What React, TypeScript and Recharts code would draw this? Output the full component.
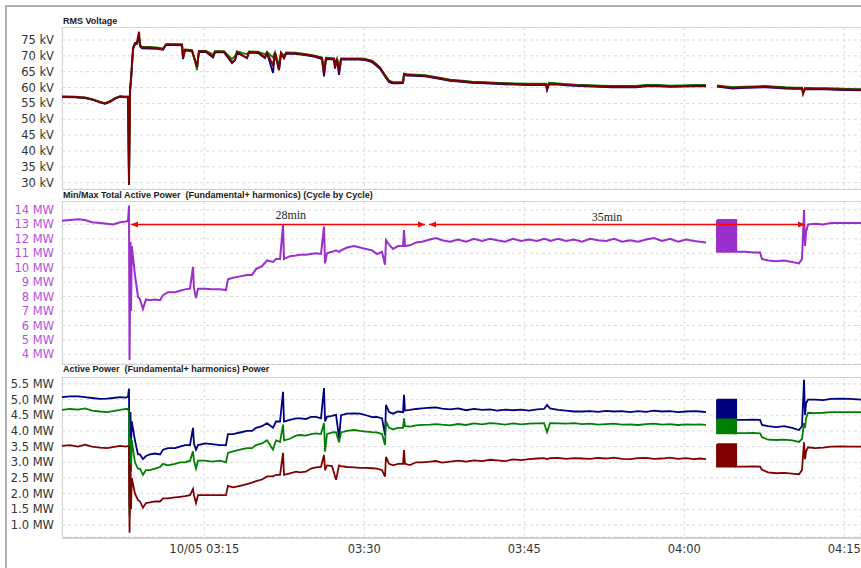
import React from 'react';
import { LineChart, Line, XAxis, YAxis, CartesianGrid, ReferenceLine, ReferenceDot } from 'recharts';

// x values are minutes after 03:00 on 10/05
const timeTicks = [15, 30, 45, 60, 75];
const timeLabels = ['10/05 03:15', '03:30', '03:45', '04:00', '04:15'];
const xDomain = [1.66, 76.56];

const voltTicks = [30, 35, 40, 45, 50, 55, 60, 65, 70, 75];
const totalTicks = [4, 5, 6, 7, 8, 9, 10, 11, 12, 13, 14];
const phaseTicks = [1.0, 1.5, 2.0, 2.5, 3.0, 3.5, 4.0, 4.5, 5.0, 5.5];

const voltTime = [
  1.66, 2.88, 3.82, 4.57, 5.22, 5.69, 6.16, 6.63, 7.1, 7.66,
  7.85, 7.94, 8.04, 8.13, 8.32, 8.5, 8.69, 8.88, 8.97, 9.16,
  9.91, 10.66, 11.13, 11.41, 12.25, 12.91, 13.0, 13.19, 13.85, 14.32,
  14.5, 15.16, 15.82, 16.0, 16.85, 17.6, 17.88, 18.07, 19.0, 19.19,
  20.03, 20.69, 20.88, 21.44, 21.63, 22.0, 22.19, 22.47, 22.66, 23.5,
  24.44, 25.38, 26.03, 26.22, 26.41, 27.16, 27.25, 27.44, 27.63, 27.82,
  28.66, 29.41, 29.97, 30.35, 30.72, 31.1, 31.47, 31.94, 32.32, 32.69,
  33.16, 33.63, 33.72, 34.0, 34.75, 35.69, 36.91, 38.04, 39.16, 40.1,
  41.32, 42.72, 44.13, 45.53, 47.03, 47.13, 47.31, 48.16, 48.91, 49.85,
  50.78, 52.1, 53.22, 54.16, 55.47, 56.41, 57.53, 58.66, 59.79, 60.91,
  62.03, 62.5, 63.06, 63.81, 64.56, 65.69, 66.63, 67.56, 68.5, 69.44,
  70.38, 71.03, 71.13, 71.31, 72.26, 73.19, 74.32, 75.35, 76.56,
];

const voltL1 = [
  57.0, 56.9, 56.7, 56.1, 55.3, 54.9, 55.5, 56.5, 57.1, 56.9,
  57.0, 30.5, 58.5, 62.0, 72.0, 73.5, 73.8, 76.0, 73.0, 72.4,
  72.3, 72.2, 71.9, 73.4, 73.4, 73.3, 69.0, 71.7, 71.4, 66.8,
  71.3, 71.2, 69.5, 71.1, 71.1, 67.7, 68.7, 71.0, 69.3, 71.0,
  70.9, 69.3, 70.8, 64.6, 70.8, 65.5, 70.7, 69.3, 70.7, 70.6,
  70.2, 69.7, 69.0, 63.5, 69.0, 68.8, 66.0, 68.8, 64.0, 68.8,
  68.8, 68.8, 68.7, 68.4, 68.0, 67.0, 65.9, 63.5, 61.7, 61.3,
  61.3, 61.4, 64.0, 63.8, 63.7, 63.5, 62.8, 62.1, 61.8, 61.5,
  61.3, 61.1, 60.9, 60.8, 60.8, 59.2, 61.0, 60.9, 60.7, 60.5,
  60.4, 60.2, 60.1, 60.1, 60.1, 60.4, 60.4, 60.2, 60.3, 60.4,
  60.4, null, 60.3, 60.0, 59.7, 59.9, 60.0, 60.1, 59.9, 59.7,
  59.6, 59.6, 58.5, 59.5, 59.4, 59.4, 59.3, 59.2, 59.1,
];

const voltL2 = [
  57.2, 57.1, 56.9, 56.3, 55.5, 55.1, 55.7, 56.7, 57.3, 57.1,
  57.2, 30.0, 59.0, 62.5, 72.3, 73.8, 74.0, 76.5, 73.3, 72.9,
  72.8, 72.6, 72.3, 73.7, 73.7, 73.6, 71.5, 72.0, 71.8, 65.5,
  71.6, 71.6, 70.5, 71.5, 71.5, 69.0, 70.0, 71.4, 70.5, 71.4,
  71.3, 70.5, 71.2, 69.5, 71.2, 67.0, 71.1, 70.0, 71.1, 71.0,
  70.6, 70.1, 69.5, 66.0, 69.4, 69.2, 67.5, 69.2, 66.5, 69.2,
  69.2, 69.2, 69.1, 68.8, 68.5, 67.5, 66.4, 64.0, 62.2, 61.7,
  61.7, 61.8, 64.4, 64.2, 64.1, 63.9, 63.2, 62.5, 62.2, 61.9,
  61.7, 61.5, 61.3, 61.2, 61.2, 60.5, 61.5, 61.3, 61.1, 60.9,
  60.8, 60.6, 60.5, 60.5, 60.5, 60.8, 60.8, 60.6, 60.7, 60.8,
  60.8, null, 60.7, 60.4, 60.1, 60.3, 60.4, 60.5, 60.3, 60.1,
  60.0, 60.0, 58.8, 59.9, 59.8, 59.8, 59.7, 59.6, 59.5,
];

const voltL3 = [
  57.1, 57.0, 56.8, 56.2, 55.4, 55.0, 55.6, 56.6, 57.2, 57.0,
  57.1, 29.3, 60.0, 63.0, 72.5, 74.0, 74.2, 77.6, 73.5, 72.7,
  72.6, 72.4, 72.1, 73.6, 73.6, 73.5, 69.3, 71.9, 71.6, 66.5,
  71.5, 71.4, 69.7, 71.3, 71.3, 68.0, 68.7, 71.2, 69.3, 71.2,
  71.1, 69.5, 71.0, 67.0, 71.0, 65.5, 70.9, 69.3, 70.9, 70.8,
  70.4, 69.9, 69.3, 64.5, 69.2, 69.0, 66.5, 69.0, 64.8, 69.0,
  69.0, 69.0, 68.9, 68.6, 68.3, 67.3, 66.2, 63.8, 62.0, 61.5,
  61.5, 61.6, 64.2, 64.0, 63.9, 63.7, 63.0, 62.3, 62.0, 61.7,
  61.5, 61.3, 61.1, 61.0, 61.0, 59.5, 61.2, 61.1, 60.9, 60.7,
  60.6, 60.4, 60.3, 60.3, 60.3, 60.6, 60.6, 60.4, 60.5, 60.6,
  60.6, null, 60.5, 60.2, 59.9, 60.1, 60.2, 60.3, 60.1, 59.9,
  59.8, 59.8, 58.0, 59.7, 59.6, 59.6, 59.5, 59.4, 59.3,
];

// the 04:03-04:05 burst is read as pairs of top/bottom samples at each instant
const powerTime = [
  1.66, 2.41, 3.16, 3.82, 4.47, 5.22, 5.88, 6.44, 7.1, 7.66,
  7.85, 7.94, 7.99, 8.08, 8.13, 8.2, 8.5, 8.78, 8.97, 9.25,
  9.53, 9.91, 10.38, 10.85, 11.13, 11.6, 12.25, 12.72, 13.19, 13.66,
  13.94, 14.03, 14.22, 14.41, 15.07, 15.72, 16.47, 17.03, 17.22, 17.69,
  18.35, 19.0, 19.47, 19.85, 20.41, 20.88, 21.44, 21.72, 22.1, 22.38,
  22.47, 23.03, 23.6, 23.97, 24.53, 25.0, 25.47, 25.94, 26.22, 26.32,
  26.5, 26.97, 27.35, 27.63, 27.82, 28.38, 29.03, 29.6, 30.16, 30.72,
  31.19, 31.66, 31.94, 32.03, 32.32, 32.69, 33.16, 33.63, 33.72, 33.81,
  34.28, 34.85, 35.41, 36.16, 36.72, 37.28, 38.04, 38.79, 39.54, 40.29,
  41.04, 41.79, 42.44, 43.19, 43.94, 44.69, 45.44, 46.19, 46.85, 47.13,
  47.41, 48.16, 48.91, 49.66, 50.41, 51.16, 51.91, 52.66, 53.41, 54.16,
  54.91, 55.66, 56.41, 57.16, 57.91, 58.66, 59.41, 60.16, 60.91, 61.47,
  62.03, 62.5,
  63.06, 63.06, 63.16, 63.16, 63.26, 63.26, 63.36, 63.36, 63.46, 63.46,
  63.56, 63.56, 63.66, 63.66, 63.76, 63.76, 63.86, 63.86, 63.96, 63.96,
  64.06, 64.06, 64.16, 64.16, 64.26, 64.26, 64.36, 64.36, 64.46, 64.46,
  64.56, 64.56, 64.66, 64.66, 64.76, 64.76, 64.86, 64.86,
  64.94, 65.69, 66.44, 67.1, 67.28, 67.85, 68.6, 69.35, 70.1, 70.75,
  71.03, 71.22, 71.31, 71.41, 71.6, 72.26, 73.0, 73.75, 74.6, 75.53, 76.56,
];

const totalPower = [
  13.25, 13.3, 13.35, 13.3, 13.15, 13.1, 13.05, 13.0, 13.15, 13.2,
  13.25, 14.3, 3.6, 11.8, 7.0, 11.5, 9.5, 8.0, 7.8, 7.15,
  7.8, 7.75, 7.8, 7.75, 8.1, 8.3, 8.3, 8.4, 8.5, 8.55,
  10.05, 8.6, 7.9, 8.55, 8.55, 8.5, 8.5, 8.45, 9.2, 9.3,
  9.4, 9.5, 9.5, 9.9, 10.1, 10.5, 10.4, 10.6, 10.6, 12.95,
  10.6, 10.8, 10.85, 10.9, 10.9, 10.95, 11.0, 10.95, 12.85, 10.3,
  11.0, 11.1, 11.2, 11.1, 11.2, 11.4, 11.5, 11.4, 11.3, 11.2,
  10.95, 11.1, 10.2, 11.9, 11.6, 11.3, 11.5, 11.5, 12.6, 11.5,
  11.55, 11.75, 11.8, 11.95, 12.05, 11.9, 11.8, 11.95, 11.8, 12.0,
  11.85, 12.0, 11.9, 11.8, 12.0, 11.85, 11.95, 11.85, 12.0, 11.95,
  11.85, 12.0, 11.85, 11.95, 11.8, 12.0, 11.9, 11.85, 12.0, 11.8,
  11.9, 11.8, 11.95, 12.05, 11.85, 12.0, 11.8, 11.95, 11.85, 11.8,
  11.75, null,
  13.3, 11.1, 11.1, 13.3, 13.3, 11.1, 11.1, 13.3, 13.3, 11.1,
  11.1, 13.3, 13.3, 11.1, 11.1, 13.3, 13.3, 11.1, 11.1, 13.3,
  13.3, 11.1, 11.1, 13.3, 13.3, 11.1, 11.1, 13.3, 13.3, 11.1,
  11.1, 13.3, 13.3, 11.1, 11.1, 13.3, 13.3, 11.1,
  11.1, 11.1, 11.05, 11.05, 10.6, 10.5, 10.45, 10.5, 10.4, 10.3,
  10.6, 14.0, 11.5, 12.5, 13.0, 13.05, 13.0, 13.1, 13.1, 13.1, 13.1,
];

const powerL1 = [
  5.08, 5.1, 5.1, 5.08, 5.05, 5.02, 5.03, 5.05, 5.08, 5.06,
  5.1, 5.35, 1.6, 4.6, 3.5, 4.3, 3.7, 3.25, 3.25, 3.1,
  3.2, 3.25, 3.28, 3.25, 3.4, 3.45, 3.45, 3.5, 3.55, 3.55,
  4.1, 3.6, 3.4, 3.55, 3.6, 3.58, 3.55, 3.55, 3.9, 3.9,
  3.95, 4.0, 4.0, 4.1, 4.15, 4.25, 4.1, 4.3, 4.3, 5.25,
  4.3, 4.35, 4.4, 4.4, 4.38, 4.45, 4.45, 4.4, 5.37, 4.3,
  4.45, 4.48, 4.51, 3.78, 4.5, 4.55, 4.56, 4.55, 4.5, 4.44,
  4.45, 4.4, 3.87, 4.83, 4.6, 4.55, 4.62, 4.6, 5.15, 4.65,
  4.67, 4.7, 4.72, 4.74, 4.75, 4.71, 4.69, 4.72, 4.66, 4.7,
  4.67, 4.69, 4.65, 4.68, 4.66, 4.68, 4.65, 4.69, 4.7, 4.83,
  4.72, 4.67, 4.65, 4.62, 4.62, 4.63, 4.61, 4.64, 4.62, 4.63,
  4.6, 4.63, 4.61, 4.65, 4.62, 4.63, 4.6, 4.62, 4.63, 4.62,
  4.6, null,
  5.0, 4.35, 4.35, 5.0, 5.0, 4.35, 4.35, 5.0, 5.0, 4.35,
  4.35, 5.0, 5.0, 4.35, 4.35, 5.0, 5.0, 4.35, 4.35, 5.0,
  5.0, 4.35, 4.35, 5.0, 5.0, 4.35, 4.35, 5.0, 5.0, 4.35,
  4.35, 5.0, 5.0, 4.35, 4.35, 5.0, 5.0, 4.35,
  4.35, 4.35, 4.36, 4.35, 4.19, 4.15, 4.12, 4.15, 4.1, 4.03,
  4.15, 5.63, 4.5, 4.88, 5.0, 5.0, 4.98, 5.02, 5.03, 5.02, 5.0,
];

const powerL2 = [
  4.67, 4.7, 4.68, 4.72, 4.65, 4.62, 4.6, 4.63, 4.67, 4.7,
  4.7, 4.6, 1.3, 3.8, 2.7, 3.7, 3.0, 2.8, 2.8, 2.6,
  2.75, 2.75, 2.8, 2.85, 2.95, 2.9, 2.95, 3.0, 3.0, 3.05,
  3.35, 3.05, 2.8, 3.05, 3.05, 3.02, 3.05, 3.0, 3.3, 3.35,
  3.4, 3.45, 3.45, 3.55, 3.6, 3.7, 3.4, 3.7, 3.65, 4.2,
  3.7, 3.75, 3.85, 3.87, 3.85, 3.9, 3.92, 3.9, 4.25, 3.34,
  3.9, 3.95, 3.96, 3.64, 3.95, 4.0, 4.03, 4.0, 3.98, 3.96,
  3.95, 3.9, 3.55, 4.3, 4.1, 4.05, 4.1, 4.1, 4.4, 4.15,
  4.14, 4.18, 4.19, 4.2, 4.22, 4.2, 4.18, 4.22, 4.19, 4.24,
  4.21, 4.25, 4.23, 4.2, 4.24, 4.21, 4.23, 4.24, 4.25, 3.96,
  4.25, 4.24, 4.23, 4.25, 4.22, 4.23, 4.2, 4.22, 4.23, 4.2,
  4.21, 4.19, 4.22, 4.23, 4.2, 4.22, 4.19, 4.21, 4.2, 4.21,
  4.19, null,
  4.37, 3.92, 3.92, 4.37, 4.37, 3.92, 3.92, 4.37, 4.37, 3.92,
  3.92, 4.37, 4.37, 3.92, 3.92, 4.37, 4.37, 3.92, 3.92, 4.37,
  4.37, 3.92, 3.92, 4.37, 4.37, 3.92, 3.92, 4.37, 4.37, 3.92,
  3.92, 4.37, 4.37, 3.92, 3.92, 4.37, 4.37, 3.92,
  3.93, 3.93, 3.94, 3.92, 3.8, 3.72, 3.71, 3.72, 3.7, 3.65,
  3.75, 4.25, 4.1, 4.4, 4.58, 4.57, 4.58, 4.6, 4.6, 4.6, 4.6,
];

const powerL3 = [
  3.52, 3.55, 3.5, 3.56, 3.5, 3.47, 3.45, 3.48, 3.52, 3.5,
  3.52, 3.5, 0.75, 2.95, 1.5, 2.5, 2.0, 1.8, 1.75, 1.55,
  1.7, 1.72, 1.75, 1.75, 1.85, 1.85, 1.88, 1.9, 1.92, 1.95,
  2.15, 1.95, 1.7, 1.95, 1.95, 1.95, 1.95, 1.95, 2.25, 2.2,
  2.25, 2.3, 2.35, 2.4, 2.45, 2.55, 2.55, 2.6, 2.6, 3.3,
  2.6, 2.65, 2.7, 2.68, 2.7, 2.8, 2.84, 2.85, 3.23, 2.75,
  2.9, 2.88, 2.44, 2.9, 2.88, 2.85, 2.84, 2.82, 2.82, 2.81,
  2.8, 2.75, 2.54, 3.17, 2.95, 2.9, 2.95, 2.95, 3.39, 2.95,
  2.91, 3.0, 3.0, 3.02, 3.04, 2.99, 3.02, 3.05, 3.02, 3.06,
  3.04, 3.08, 3.06, 3.04, 3.09, 3.07, 3.1, 3.12, 3.13, 3.1,
  3.13, 3.14, 3.11, 3.13, 3.12, 3.11, 3.14, 3.12, 3.15, 3.11,
  3.1, 3.13, 3.14, 3.11, 3.12, 3.15, 3.11, 3.13, 3.1, 3.12,
  3.1, null,
  3.58, 2.86, 2.86, 3.58, 3.58, 2.86, 2.86, 3.58, 3.58, 2.86,
  2.86, 3.58, 3.58, 2.86, 2.86, 3.58, 3.58, 2.86, 2.86, 3.58,
  3.58, 2.86, 2.86, 3.58, 3.58, 2.86, 2.86, 3.58, 3.58, 2.86,
  2.86, 3.58, 3.58, 2.86, 2.86, 3.58, 3.58, 2.86,
  2.87, 2.86, 2.87, 2.86, 2.76, 2.68, 2.65, 2.66, 2.64, 2.62,
  2.75, 3.64, 3.1, 3.35, 3.48, 3.45, 3.47, 3.5, 3.51, 3.5, 3.5,
];

// arrows drawn on the total power panel (start, end in minutes) and their labels
const arrowSpans = [
  [8.13, 35.69],
  [36.07, 71.31],
];
const arrowLabels = ['28min', '35min'];
const arrowLabelTimes = [23.1, 52.75];
const arrowLevel = 13;

const voltData = voltTime.map((t, i) => ({ t, a: voltL1[i], b: voltL2[i], c: voltL3[i] }));
const powerData = powerTime.map((t, i) => ({
  t,
  total: totalPower[i],
  a: powerL1[i],
  b: powerL2[i],
  c: powerL3[i],
}));

const AXIS_FONT = '"DejaVu Sans", Verdana, sans-serif';
const GRID = '#d9d9d9';
const BORDER = '#d0d0d0';
const BLUE = '#000080';
const GREEN = '#008000';
const RED = '#800000';
const PURPLE = '#9b2fcb';
const PURPLE_TEXT = '#b94fdc';

const Arrow = (props: any) => {
  const { x1, y1, x2, y2 } = props;
  const len = 7;
  const half = 3;
  return (
    <g>
      <line x1={x1} y1={y1} x2={x2} y2={y2} stroke="#ff0000" strokeWidth={1.5} />
      <polygon points={`${x1},${y1} ${x1 + len},${y1 - half} ${x1 + len},${y1 + half}`} fill="#ff0000" />
      <polygon points={`${x2},${y2} ${x2 - len},${y2 - half} ${x2 - len},${y2 + half}`} fill="#ff0000" />
    </g>
  );
};

const Title = ({ top, children }: { top: number; children: React.ReactNode }) => (
  <div
    style={{
      position: 'absolute',
      left: 63,
      top,
      fontFamily: '"Liberation Sans", Arial, sans-serif',
      fontWeight: 'bold',
      fontSize: 9,
      lineHeight: '12px',
      color: '#1a1a1a',
      whiteSpace: 'pre',
    }}
  >
    {children}
  </div>
);

const Frame = ({ top, height, bottom = 1 }: { top: number; height: number; bottom?: number }) => (
  <div
    style={{
      position: 'absolute',
      left: 62,
      top,
      width: 799,
      height,
      boxSizing: 'border-box',
      borderTop: `1px solid ${BORDER}`,
      borderLeft: `1px solid ${BORDER}`,
      borderBottom: `${bottom}px solid ${BORDER}`,
    }}
  />
);

const yTick = (fill: string) => ({ fontSize: 11.5, fill, fontFamily: AXIS_FONT });

export default function App() {
  return (
    <div
      style={{
        position: 'absolute',
        left: 0,
        top: 0,
        width: 861,
        height: 568,
        background: '#fff',
        overflow: 'hidden',
      }}
    >
      {/* outer window frame */}
      <div style={{ position: 'absolute', left: 5, top: 5, width: 2, height: 563, background: '#b0b0b0' }} />
      <div style={{ position: 'absolute', left: 5, top: 5, width: 856, height: 2, background: '#b0b0b0' }} />

      <Frame top={27} height={163} />
      <Frame top={201} height={164} />
      <Frame top={377} height={162} bottom={2} />

      <Title top={14.5}>RMS Voltage</Title>
      <Title top={188.5}>{'Min/Max Total Active Power  (Fundamental+ harmonics) (Cycle by Cycle)'}</Title>
      <Title top={363}>{'Active Power  (Fundamental+ harmonics) Power'}</Title>

      {/* RMS voltage */}
      <div style={{ position: 'absolute', left: 0, top: 27 }}>
        <LineChart width={861} height={162} data={voltData} margin={{ top: 0, right: 0, bottom: 0, left: 0 }}>
          <CartesianGrid stroke={GRID} strokeDasharray="3 3" />
          <XAxis dataKey="t" type="number" domain={xDomain} ticks={timeTicks} allowDataOverflow hide />
          <YAxis
            type="number"
            domain={[28.0, 79.1]}
            ticks={voltTicks}
            interval={0}
            allowDataOverflow
            width={62}
            axisLine={false}
            tickLine={false}
            tick={yTick('#333')}
            tickFormatter={(v: number) => `${v} kV`}
          />
          <Line dataKey="a" stroke={BLUE} strokeWidth={1.8} dot={false} isAnimationActive={false} connectNulls={false} />
          <Line dataKey="b" stroke={GREEN} strokeWidth={1.8} dot={false} isAnimationActive={false} connectNulls={false} />
          <Line dataKey="c" stroke={RED} strokeWidth={2} dot={false} isAnimationActive={false} connectNulls={false} />
        </LineChart>
      </div>

      {/* total active power */}
      <div style={{ position: 'absolute', left: 0, top: 201 }}>
        <LineChart width={861} height={163} data={powerData} margin={{ top: 0, right: 0, bottom: 0, left: 0 }}>
          <CartesianGrid stroke={GRID} strokeDasharray="3 3" />
          <XAxis dataKey="t" type="number" domain={xDomain} ticks={timeTicks} allowDataOverflow hide />
          <YAxis
            type="number"
            domain={[3.33, 14.62]}
            ticks={totalTicks}
            interval={0}
            allowDataOverflow
            width={62}
            axisLine={false}
            tickLine={false}
            tick={yTick(PURPLE_TEXT)}
            tickFormatter={(v: number) => `${v} MW`}
          />
          <Line dataKey="total" stroke={PURPLE} strokeWidth={2} dot={false} isAnimationActive={false} connectNulls={false} />
          {arrowSpans.map(([s, e], i) => (
            <ReferenceLine
              key={`arrow-${i}`}
              segment={[
                { x: s, y: arrowLevel },
                { x: e, y: arrowLevel },
              ]}
              stroke="#ff0000"
              shape={Arrow}
            />
          ))}
          {arrowLabels.map((label, i) => (
            <ReferenceDot
              key={`label-${i}`}
              x={arrowLabelTimes[i]}
              y={arrowLevel}
              r={0}
              stroke="none"
              fill="none"
              label={{
                value: label,
                position: 'top',
                offset: i === 0 ? 5 : 3,
                fill: '#222',
                fontSize: 12,
                fontFamily: '"Liberation Serif", "Times New Roman", serif',
              }}
            />
          ))}
        </LineChart>
      </div>

      {/* per-phase active power */}
      <div style={{ position: 'absolute', left: 0, top: 377 }}>
        <LineChart width={861} height={190} data={powerData} margin={{ top: 0, right: 0, bottom: 0, left: 0 }}>
          <CartesianGrid stroke={GRID} strokeDasharray="3 3" />
          <XAxis
            dataKey="t"
            type="number"
            domain={xDomain}
            ticks={timeTicks}
            interval={0}
            allowDataOverflow
            height={30}
            axisLine={false}
            tickLine={false}
            tick={{ fontSize: 11.5, fill: '#333', fontFamily: AXIS_FONT }}
            tickFormatter={(v: number) => timeLabels[timeTicks.indexOf(v)]}
          />
          <YAxis
            type="number"
            domain={[0.617, 5.72]}
            ticks={phaseTicks}
            interval={0}
            allowDataOverflow
            width={62}
            axisLine={false}
            tickLine={false}
            tick={yTick('#333')}
            tickFormatter={(v: number) => `${v.toFixed(1)} MW`}
          />
          <Line dataKey="a" stroke={BLUE} strokeWidth={1.8} dot={false} isAnimationActive={false} connectNulls={false} />
          <Line dataKey="b" stroke={GREEN} strokeWidth={1.8} dot={false} isAnimationActive={false} connectNulls={false} />
          <Line dataKey="c" stroke={RED} strokeWidth={1.8} dot={false} isAnimationActive={false} connectNulls={false} />
        </LineChart>
      </div>
    </div>
  );
}
